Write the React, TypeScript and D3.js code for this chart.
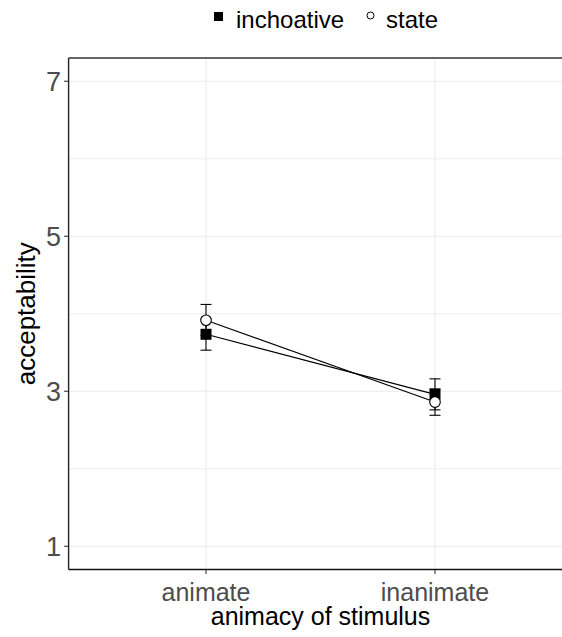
import React, { useRef, useEffect } from 'react';
import * as d3 from 'd3';

const width = 562;
const height = 637;

const categories = ['animate', 'inanimate'];
const seriesNames = ['inchoative', 'state'];
const inchoativeMean = [3.735, 2.96];
const inchoativeLow = [3.53, 2.76];
const inchoativeHigh = [3.93, 3.16];
const stateMean = [3.916, 2.86];
const stateLow = [3.72, 2.69];
const stateHigh = [4.12, 3.03];
const yTicks = [1, 3, 5, 7];
const yMinor = [2, 4, 6];

const left = 68.6, right = 572.4, top = 58, bottom = 569.5;
const FONT = '"Liberation Sans", Arial, sans-serif';

export default function App() {
  const svgRef = useRef<SVGSVGElement>(null);

  useEffect(() => {
    document.body.style.margin = '0';
    const svg = d3.select(svgRef.current);
    svg.selectAll('*').remove();

    const x = d3.scalePoint().domain(categories).range([left, right]).padding(0.6);
    const y = d3.scaleLinear().domain([0.7, 7.3]).range([bottom, top]);

    const series = [
      { name: seriesNames[0], mean: inchoativeMean, lo: inchoativeLow, hi: inchoativeHigh, shape: 'square' },
      { name: seriesNames[1], mean: stateMean, lo: stateLow, hi: stateHigh, shape: 'circle' },
    ];

    const panel = svg.append('g');
    panel.append('rect').attr('x', left).attr('y', top).attr('width', right - left).attr('height', bottom - top).attr('fill', 'white');

    // grid
    panel.selectAll('line.minor').data(yMinor).join('line')
      .attr('x1', left).attr('x2', right).attr('y1', d => y(d)).attr('y2', d => y(d))
      .attr('stroke', '#ebebeb').attr('stroke-width', 0.8);
    panel.selectAll('line.major').data(yTicks).join('line')
      .attr('x1', left).attr('x2', right).attr('y1', d => y(d)).attr('y2', d => y(d))
      .attr('stroke', '#ebebeb').attr('stroke-width', 1.1);
    panel.selectAll('line.xg').data(categories).join('line')
      .attr('x1', d => x(d)!).attr('x2', d => x(d)!).attr('y1', top).attr('y2', bottom)
      .attr('stroke', '#ebebeb').attr('stroke-width', 1.1);

    // lines
    const line = d3.line<number>().x((d, i) => x(categories[i])!).y(d => y(d));
    series.forEach(s => {
      panel.append('path').attr('d', line(s.mean)!).attr('fill', 'none')
        .attr('stroke', 'black').attr('stroke-width', 1.1);
    });

    // error bars
    series.forEach(s => {
      categories.forEach((c, i) => {
        const cx = x(c)!;
        const g = panel.append('g').attr('stroke', 'black').attr('stroke-width', 1.1);
        g.append('line').attr('x1', cx).attr('x2', cx).attr('y1', y(s.lo[i])).attr('y2', y(s.hi[i]));
        g.append('line').attr('x1', cx - 5.5).attr('x2', cx + 5.5).attr('y1', y(s.lo[i])).attr('y2', y(s.lo[i]));
        g.append('line').attr('x1', cx - 5.5).attr('x2', cx + 5.5).attr('y1', y(s.hi[i])).attr('y2', y(s.hi[i]));
      });
    });

    // points
    series.forEach(s => {
      categories.forEach((c, i) => {
        const cx = x(c)!, cy = y(s.mean[i]);
        if (s.shape === 'square') {
          panel.append('rect').attr('x', cx - 5.5).attr('y', cy - 5.5).attr('width', 11).attr('height', 11)
            .attr('fill', 'black');
        } else {
          panel.append('circle').attr('cx', cx).attr('cy', cy).attr('r', 5.3)
            .attr('fill', 'white').attr('stroke', 'black').attr('stroke-width', 1.1);
        }
      });
    });

    // border
    panel.append('line').attr('x1', left).attr('x2', right).attr('y1', top).attr('y2', top)
      .attr('stroke', '#333').attr('stroke-width', 1.3);
    panel.append('line').attr('x1', left).attr('x2', left).attr('y1', top).attr('y2', bottom)
      .attr('stroke', '#222').attr('stroke-width', 1.4);
    panel.append('line').attr('x1', left).attr('x2', right).attr('y1', bottom).attr('y2', bottom)
      .attr('stroke', '#111').attr('stroke-width', 1.6);

    // y ticks
    svg.selectAll('line.yt').data(yTicks).join('line')
      .attr('x1', left - 4.5).attr('x2', left).attr('y1', d => y(d)).attr('y2', d => y(d))
      .attr('stroke', '#333').attr('stroke-width', 1.1);
    svg.selectAll('text.yl').data(yTicks).join('text')
      .attr('x', left - 7.5).attr('y', d => y(d)).attr('dy', '0.36em')
      .attr('text-anchor', 'end').attr('font-family', FONT).attr('font-size', 27)
      .attr('fill', '#4d4d4d').text(d => d);

    // x ticks
    svg.selectAll('line.xt').data(categories).join('line')
      .attr('x1', d => x(d)!).attr('x2', d => x(d)!).attr('y1', bottom).attr('y2', bottom + 4.5)
      .attr('stroke', '#333').attr('stroke-width', 1.1);
    svg.selectAll('text.xl').data(categories).join('text')
      .attr('x', d => x(d)!).attr('y', 601)
      .attr('text-anchor', 'middle').attr('font-family', FONT).attr('font-size', 25)
      .attr('fill', '#4d4d4d').text(d => d);

    // axis titles
    svg.append('text').attr('x', (left + right) / 2).attr('y', 625)
      .attr('text-anchor', 'middle').attr('font-family', FONT).attr('font-size', 25)
      .attr('fill', 'black').text('animacy of stimulus');
    svg.append('text').attr('transform', `translate(35,${(top + bottom) / 2}) rotate(-90)`)
      .attr('text-anchor', 'middle').attr('font-family', FONT).attr('font-size', 26)
      .attr('fill', 'black').text('acceptability');

    // legend
    const lg = svg.append('g').attr('font-family', FONT).attr('font-size', 24);
    lg.append('rect').attr('x', 214).attr('y', 12).attr('width', 9).attr('height', 9).attr('fill', 'black');
    lg.append('text').attr('x', 236).attr('y', 27.5).text(seriesNames[0]);
    lg.append('circle').attr('cx', 370.5).attr('cy', 15.5).attr('r', 3.5)
      .attr('fill', 'white').attr('stroke', 'black').attr('stroke-width', 1);
    lg.append('text').attr('x', 386).attr('y', 27.5).text(seriesNames[1]);
  }, []);

  return <svg ref={svgRef} width={width} height={height} style={{ display: 'block' }} />;
}
